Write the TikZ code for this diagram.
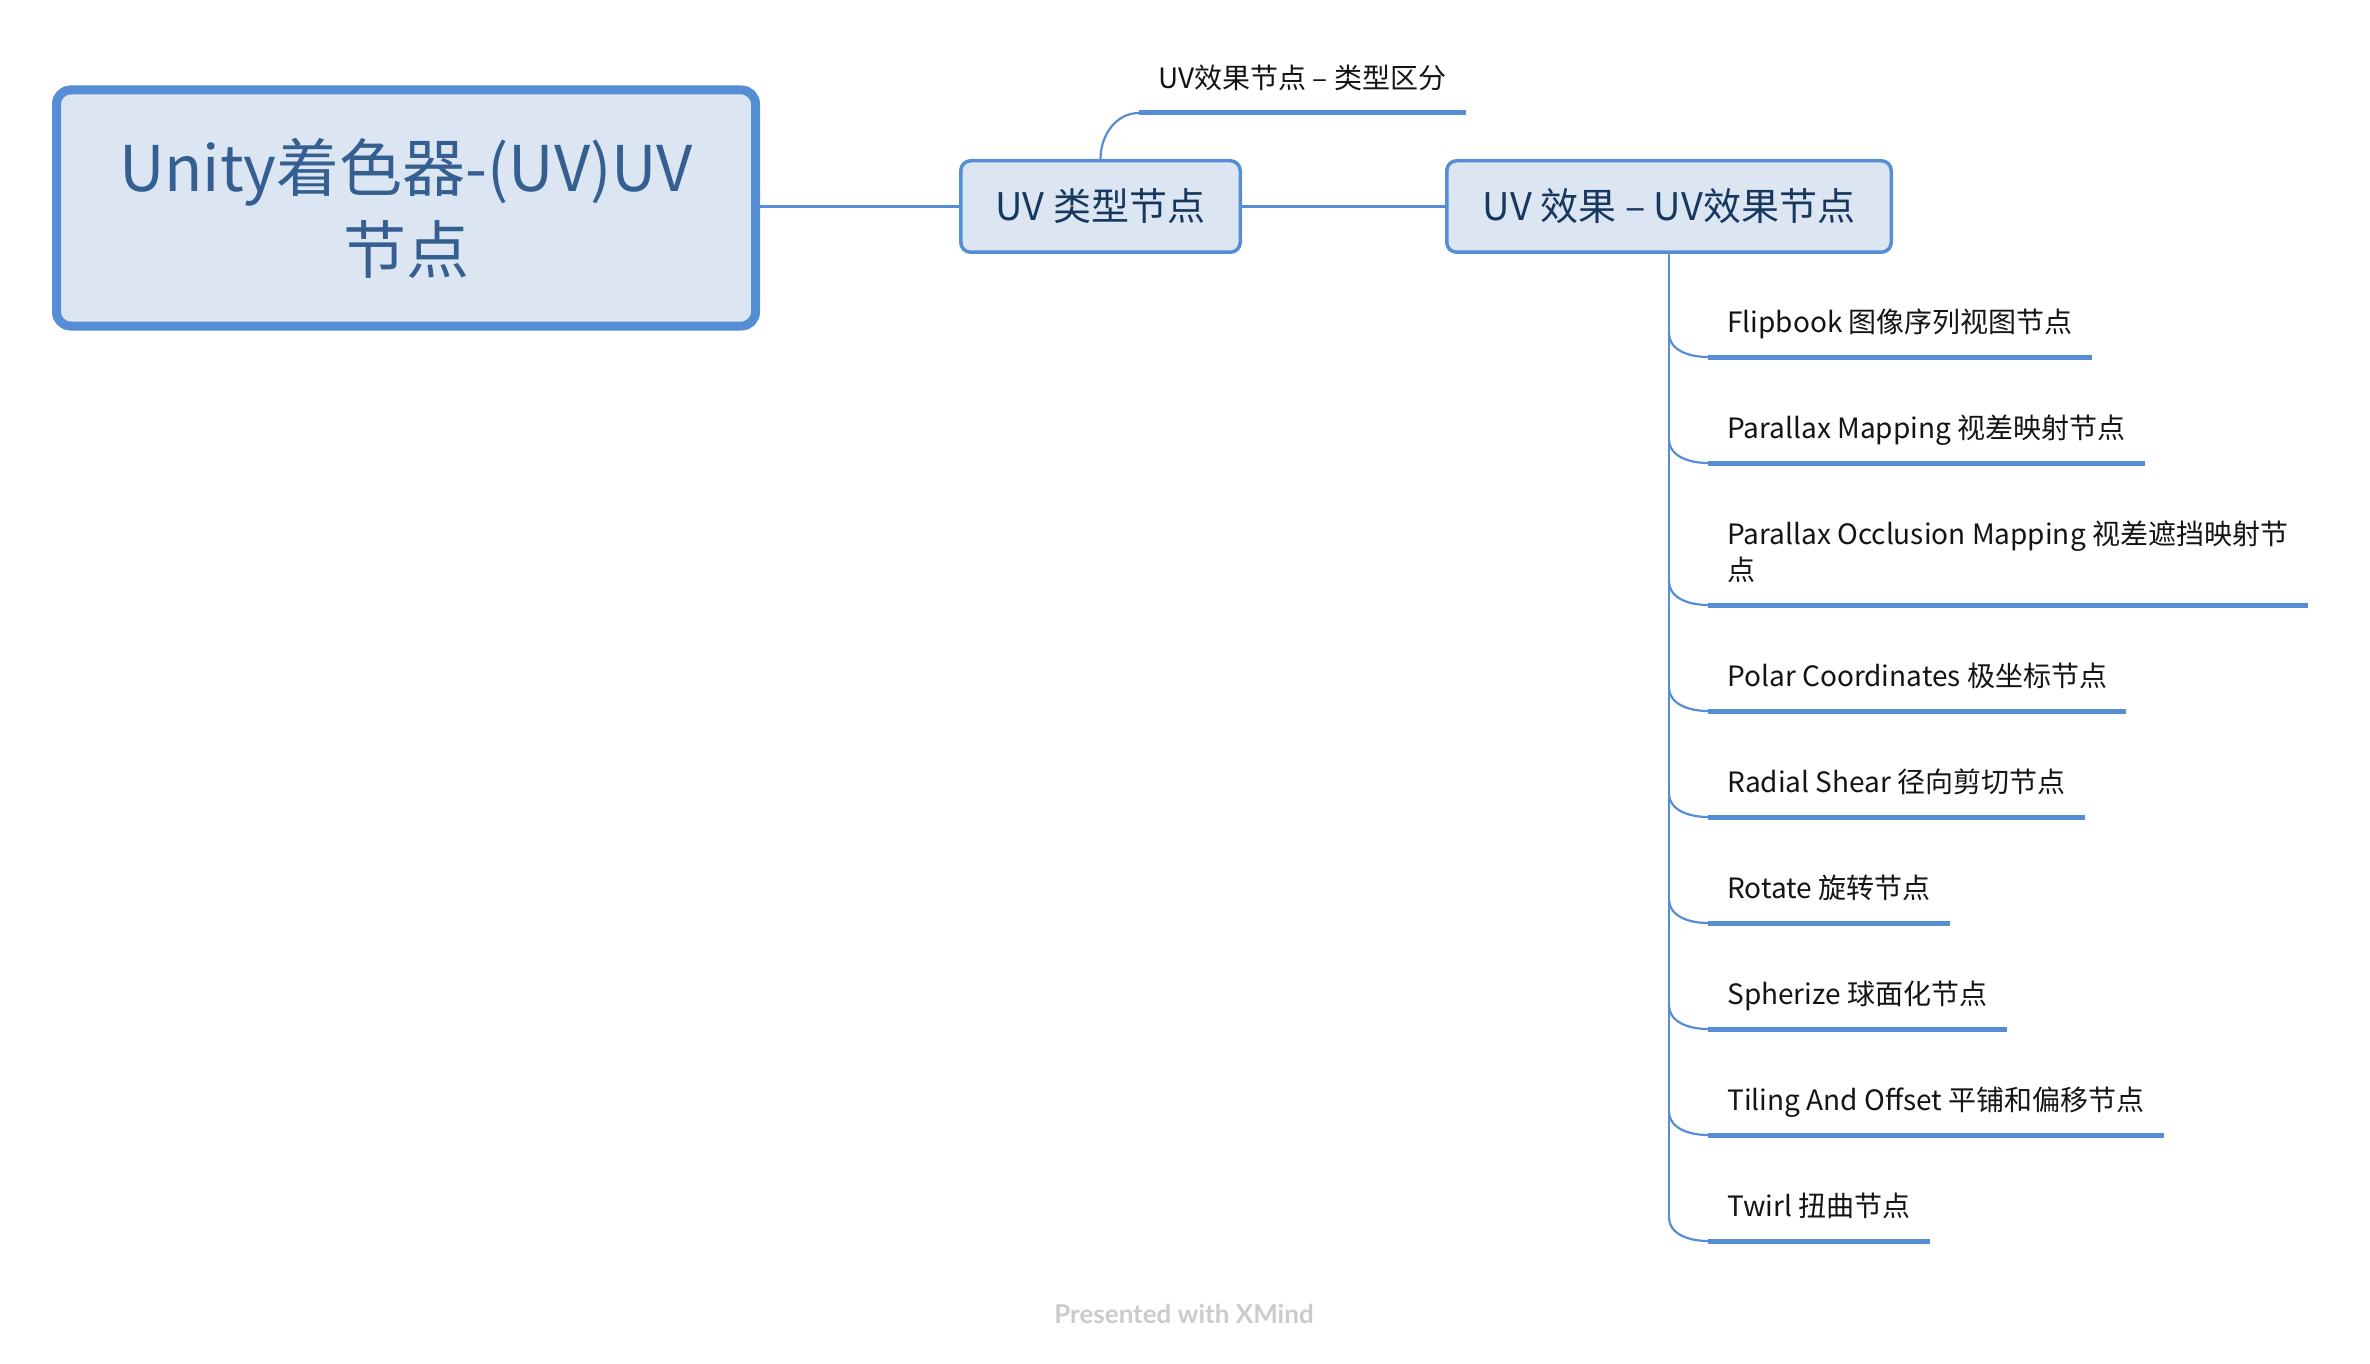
\documentclass[tikz,border=0pt]{standalone}
\usepackage{fontspec}
\setmainfont{Noto Sans CJK SC}
\newfontfamily\footfont{Lato}
\definecolor{boxfill}{HTML}{DCE6F2}
\definecolor{boxline}{HTML}{558ED5}
\definecolor{titletext}{HTML}{365F91}
\definecolor{subtext}{HTML}{17375E}
\definecolor{itemtext}{HTML}{141414}
\definecolor{foot}{HTML}{CBCBCB}
\begin{document}
\begin{tikzpicture}[x=0.5pt,y=-0.5pt,
  root/.style={draw=boxline, line width=4.5pt, fill=boxfill, rounded corners=7pt,
    minimum width=349.5pt, minimum height=118pt, align=center, inner sep=0pt,
    font=\fontsize{31.5}{41}\selectfont, text=titletext},
  topic/.style={draw=boxline, line width=1.75pt, fill=boxfill, rounded corners=5pt,
    minimum height=45.75pt, inner sep=0pt, font=\fontsize{19}{23}\selectfont, text=subtext},
  item/.style={anchor=south west, inner xsep=9.5pt, inner ysep=0pt, text depth=0pt,
    align=left, font=\fontsize{14}{18}\selectfont, text=itemtext},
  ul/.style={draw=boxline, line width=2.5pt},
  conn/.style={draw=boxline, line width=1.1pt}]
\useasboundingbox (0,0) rectangle (2370,1364);

\node[root] (root) at (406,208) {Unity着色器-(UV)UV\\节点};
\node[topic, minimum width=139.75pt] (typ) at (1100.5,206.5) {UV 类型节点};
\node[topic, minimum width=222.25pt] (eff) at (1669,206.5) {UV 效果 – UV效果节点};

\draw[conn] (root.east |- typ.west) -- (typ.west);
\draw[conn] (typ.east) -- (eff.west);

\node[item] (sub) at (1139,89) {UV效果节点 – 类型区分};
\draw[conn] (typ.north) to[out=90,in=180] ([yshift=-12pt]sub.south west);
\draw[ul] ([yshift=-12pt]sub.south west) -- ([yshift=-12pt]sub.south east);

\node[item] (f1) at (1708,333) {Flipbook 图像序列视图节点};
\node[item] (f2) at (1708,439) {Parallax Mapping 视差映射节点};
\node[item] (f3) at (1708,581) {Parallax Occlusion Mapping 视差遮挡映射节\\点};
\node[item] (f4) at (1708,687) {Polar Coordinates 极坐标节点};
\node[item] (f5) at (1708,793) {Radial Shear 径向剪切节点};
\node[item] (f6) at (1708,899) {Rotate 旋转节点};
\node[item] (f7) at (1708,1005) {Spherize 球面化节点};
\node[item] (f8) at (1708,1111) {Tiling And Offset 平铺和偏移节点};
\node[item] (f9) at (1708,1217) {Twirl 扭曲节点};

\draw[conn] (eff.south) -- (eff.south |- f9.south west);
\foreach \n in {f1,f2,f3,f4,f5,f6,f7,f8,f9}{
  \draw[conn] (eff.south |- \n.south west) to[out=-90,in=180] ([yshift=-12pt]\n.south west);
  \draw[ul] ([yshift=-12pt]\n.south west) -- ([yshift=-12pt]\n.south east);
}

\node[font=\footfont\bfseries\fontsize{13}{16}\selectfont, text=foot] (foot) at (1184,1314) {Presented with XMind};
\end{tikzpicture}
\end{document}
